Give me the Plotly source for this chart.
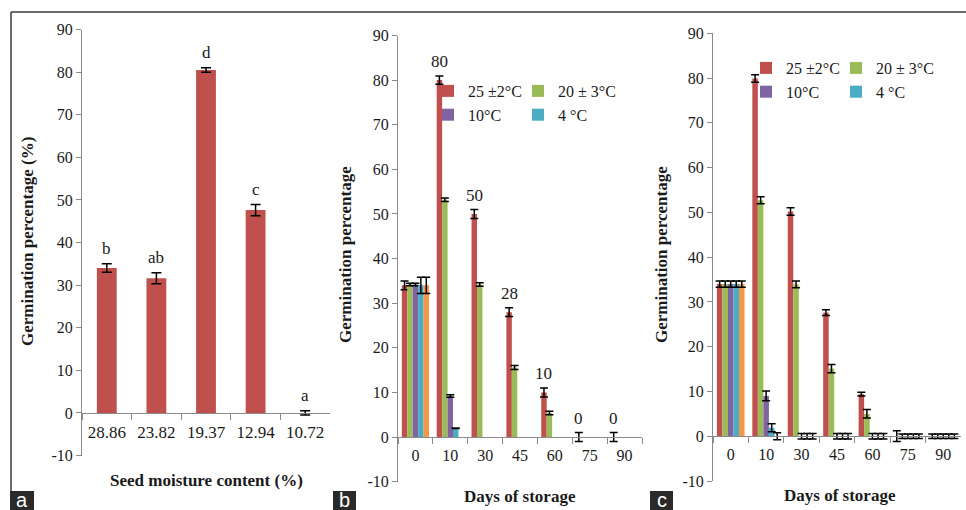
import plotly.graph_objects as go

W, H = 966, 510

# ---------------- data ----------------
# Panel a
moisture = ["28.86", "23.82", "19.37", "12.94", "10.72"]
germ_a = [34.0, 31.6, 80.5, 47.6, 0.0]
err_a = [1.0, 1.3, 0.55, 1.3, 0.5]
letters_a = ["b", "ab", "d", "c", "a"]

# Panels b and c
days = ["0", "10", "30", "45", "60", "75", "90"]
series_names = ["25 ±2°C", "20 ± 3°C", "10°C", "4 °C", "other"]
colors = ["#C0504D", "#9BBB59", "#8064A2", "#4BACC6", "#F79646"]

b_25 = [34.0, 80.0, 50.0, 28.0, 10.0, 0.0, 0.0]
b_25_err = [1.0, 0.9, 1.0, 1.0, 1.0, 1.0, 1.0]
b_20 = [34.2, 53.2, 34.2, 15.6, 5.4, None, None]
b_20_err = [0.3, 0.4, 0.4, 0.45, 0.4, 0, 0]
b_10 = [34.2, 9.2, None, None, None, None, None]
b_10_err = [0.3, 0.3, 0, 0, 0, 0, 0]
b_4 = [34.0, 2.0, None, None, None, None, None]
b_4_err = [1.8, 0.05, 0, 0, 0, 0, 0]
b_x = [34.0, None, None, None, None, None, None]
b_x_err = [1.8, 0, 0, 0, 0, 0, 0]
b_labels = ["", "80", "50", "28", "10", "0", "0"]

c_25 = [34.0, 79.9, 50.2, 27.6, 9.4, 0.0, 0.0]
c_25_err = [0.7, 0.85, 0.85, 0.65, 0.4, 1.2, 0.5]
c_20 = [34.0, 52.7, 33.9, 15.1, 5.0, 0.0, 0.0]
c_20_err = [0.7, 0.8, 0.75, 0.9, 0.95, 0.5, 0.5]
c_10 = [34.0, 9.0, 0.0, 0.0, 0.0, 0.0, 0.0]
c_10_err = [0.7, 1.1, 0.6, 0.6, 0.6, 0.5, 0.5]
c_4 = [34.0, 1.9, 0.0, 0.0, 0.0, 0.0, 0.0]
c_4_err = [0.7, 0.9, 0.6, 0.6, 0.6, 0.5, 0.5]
c_x = [34.0, 0.0, 0.0, 0.0, 0.0, 0.0, 0.0]
c_x_err = [0.7, 0.8, 0.6, 0.6, 0.6, 0.5, 0.5]

# y tick labels (plain hyphen minus as in the original)
y_tick_vals = [-10, 0, 10, 20, 30, 40, 50, 60, 70, 80, 90]
y_tick_text = ["-10", "0", "10", "20", "30", "40", "50", "60", "70", "80", "90"]

# ---------------- helpers ----------------
SERIF = "Liberation Serif, Times New Roman, serif"
AXC = "#8a8a8a"
TXT = "#1a1a1a"
BARGAP = 0.22


def fx(px):
    return px / W


def fy(py):
    return 1 - py / H


fig = go.Figure()

# panel a
fig.add_trace(go.Bar(
    x=moisture, y=germ_a, marker_color=colors[0], width=0.4,
    error_y=dict(type="data", array=err_a, color="black", thickness=1.5, width=5),
    xaxis="x", yaxis="y", showlegend=False))

# legends: one vertical legend per column of the original 2x2 legend
legend_map_b = ["legend", "legend3", "legend", "legend3", None]
b_vals = [b_25, b_20, b_10, b_4, b_x]
b_errs = [b_25_err, b_20_err, b_10_err, b_4_err, b_x_err]
for i in range(5):
    fig.add_trace(go.Bar(
        x=days, y=b_vals[i], name=series_names[i], marker_color=colors[i],
        error_y=dict(type="data", array=b_errs[i], color="black", thickness=1.5, width=4),
        xaxis="x2", yaxis="y2",
        showlegend=legend_map_b[i] is not None,
        legend=legend_map_b[i] or "legend"))

legend_map_c = ["legend2", "legend4", "legend2", "legend4", None]
c_vals = [c_25, c_20, c_10, c_4, c_x]
c_errs = [c_25_err, c_20_err, c_10_err, c_4_err, c_x_err]
for i in range(5):
    fig.add_trace(go.Bar(
        x=days, y=c_vals[i], name=series_names[i], marker_color=colors[i],
        error_y=dict(type="data", array=c_errs[i], color="black", thickness=1.5, width=4),
        xaxis="x3", yaxis="y3",
        showlegend=legend_map_c[i] is not None,
        legend=legend_map_c[i] or "legend2"))

# domains (pixel based)
panels = {
    "a": dict(x0=82, x1=330, ytop=29.5, ybot=455.5, tick=17, ytick=16),
    "b": dict(x0=398, x1=642, ytop=35.5, ybot=481.7, tick=16, ytick=16),
    "c": dict(x0=713, x1=961, ytop=33.3, ybot=481.0, tick=16, ytick=16),
}

axes = {}
for k, suf in zip(["a", "b", "c"], ["", "2", "3"]):
    p = panels[k]
    yd = [fy(p["ybot"]), fy(p["ytop"])]
    pos0 = yd[0] + (yd[1] - yd[0]) * 0.1
    axes["xaxis" + suf] = dict(
        domain=[fx(p["x0"]), fx(p["x1"])], type="category", anchor="free", position=pos0,
        showline=True, linecolor=AXC, linewidth=1, ticks="outside", tickson="boundaries",
        ticklen=6, tickcolor=AXC, showgrid=False, zeroline=False, automargin=False,
        tickfont=dict(family=SERIF, size=p["tick"], color=TXT), ticklabelstandoff=4)
    axes["yaxis" + suf] = dict(
        domain=yd, anchor="x" + suf, range=[-10, 90],
        tickmode="array", tickvals=y_tick_vals, ticktext=y_tick_text,
        showline=True, linecolor=AXC, linewidth=1, ticks="outside", ticklen=5,
        tickcolor=AXC, showgrid=False, zeroline=False, automargin=False,
        tickfont=dict(family=SERIF, size=p["ytick"], color=TXT))

annotations = []
# letters on panel a (category index positions)
for i in range(len(moisture)):
    annotations.append(dict(x=i, y=germ_a[i] + err_a[i], xref="x", yref="y", text=letters_a[i],
                            showarrow=False, xanchor="center", yanchor="bottom", yshift=4,
                            font=dict(family=SERIF, size=17, color=TXT)))
# value labels on panel b (red series)
cat_w = (1 - BARGAP) / 5
for i in range(len(days)):
    if b_labels[i]:
        annotations.append(dict(x=i - 2 * cat_w, y=b_25[i] + b_25_err[i], xref="x2", yref="y2",
                                text=b_labels[i], showarrow=False, xanchor="center",
                                yanchor="bottom", yshift=3,
                                font=dict(family=SERIF, size=17, color=TXT)))


def paper_text(x, y, text, font, angle=0):
    return dict(x=fx(x), y=fy(y), xref="paper", yref="paper", text=text, textangle=angle,
                showarrow=False, xanchor="center", yanchor="middle", font=font)


# axis titles
bold = dict(family=SERIF, size=17, color=TXT, weight="bold")
annotations += [
    paper_text(27, 242, "Germination percentage (%)", bold, -90),
    paper_text(206, 480, "Seed moisture content (%)", bold),
    paper_text(345, 255, "Germination percentage", bold, -90),
    paper_text(520, 496, "Days of storage", bold),
    paper_text(661, 255, "Germination percentage", bold, -90),
    paper_text(840, 495, "Days of storage", bold),
]

# frame and panel tags
shapes = [
    dict(type="line", xref="paper", yref="paper", x0=fx(11), x1=1, y0=fy(12), y1=fy(12),
         line=dict(color="#3a3a3a", width=1.5)),
    dict(type="line", xref="paper", yref="paper", x0=fx(11), x1=fx(11), y0=fy(12), y1=0,
         line=dict(color="#3a3a3a", width=1.5)),
]
tag_font = dict(family="Liberation Sans, Arial, sans-serif", size=20, color="white")
for tag, (l, r) in zip(["a", "b", "c"], [(10, 34), (333, 356), (650, 673)]):
    shapes.append(dict(type="rect", xref="paper", yref="paper", x0=fx(l), x1=fx(r),
                       y0=0, y1=fy(491), fillcolor="#2a2a2a", line=dict(width=0)))
    annotations.append(paper_text((l + r) / 2, 500, tag, tag_font))

leg_common = dict(orientation="v", xanchor="left", yanchor="top",
                  bgcolor="rgba(0,0,0,0)", borderwidth=0, traceorder="normal",
                  font=dict(family=SERIF, size=16, color=TXT))

fig.update_layout(
    template="none",
    width=W, height=H, margin=dict(l=0, r=0, t=0, b=0, pad=0),
    paper_bgcolor="white", plot_bgcolor="white",
    barmode="group", bargap=BARGAP, bargroupgap=0,
    annotations=annotations, shapes=shapes,
    legend=dict(x=fx(428), y=fy(74), **leg_common),
    legend3=dict(x=fx(518), y=fy(74), **leg_common),
    legend2=dict(x=fx(746), y=fy(51), **leg_common),
    legend4=dict(x=fx(836), y=fy(51), **leg_common),
    **axes,
)

post = "document.body.style.margin='0';document.body.style.padding='0';"
fig.write_html("out.html", post_script=post, config={"displayModeBar": False})
